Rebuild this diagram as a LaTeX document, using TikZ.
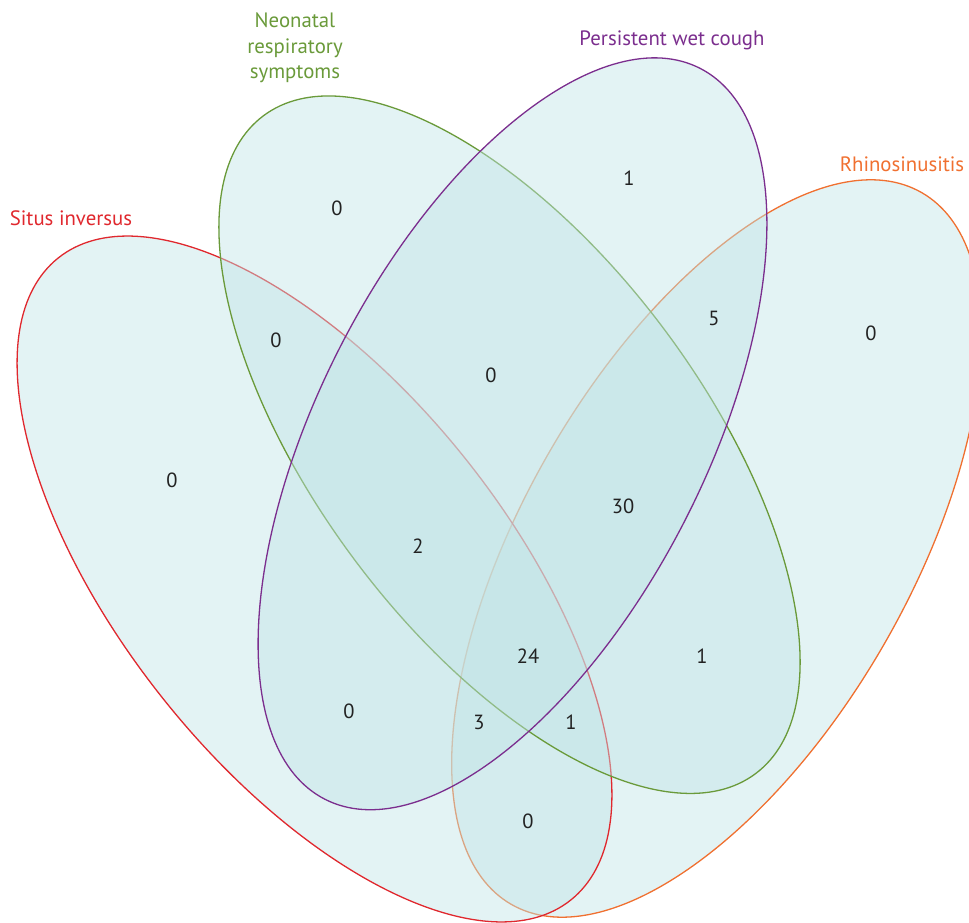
\documentclass[tikz,border=0pt]{standalone}
\usepackage{fontspec}
\setmainfont{PT Sans}
\definecolor{vfill}{RGB}{193,228,230}
\definecolor{cred}{RGB}{224,40,46}
\definecolor{cgreen}{RGB}{106,154,58}
\definecolor{cpurple}{RGB}{123,46,142}
\definecolor{corange}{RGB}{240,112,48}
\definecolor{numcol}{RGB}{34,34,34}
\tikzset{
  vset/.style={line width=1.3pt, fill=vfill, fill opacity=0.45},
  num/.style={text=numcol, font=\fontsize{20.5}{24}\selectfont, inner sep=0pt},
  setlabel/.style={font=\fontsize{20.8}{25.5}\selectfont, inner sep=0pt, align=center},
}
\begin{document}
\begin{tikzpicture}[x=1pt,y=1pt]
\useasboundingbox (0,0) rectangle (969,922);
\clip (0,0) rectangle (969,922);
% ellipses: orange, red, green, purple
\draw[vset, draw=corange, shift={(716.5,373.5)}, rotate=60] (0,0) ellipse [x radius=410.8, y radius=193];
\draw[vset, draw=cred, shift={(314.5,343)}, rotate=-51.4] (0,0) ellipse [x radius=410.8, y radius=193];
\draw[vset, draw=cgreen, shift={(509.5,477.3)}, rotate=-53.2] (0,0) ellipse [x radius=410.8, y radius=193];
\draw[vset, draw=cpurple, shift={(512.5,488.2)}, rotate=62.8] (0,0) ellipse [x radius=410.8, y radius=193];
% set labels
\node[setlabel, text=cred] (lred) at (71,704) {Situs inversus};
\node[setlabel, text=cgreen] (lgreen) at (295,874) {Neonatal\\respiratory\\symptoms};
\node[setlabel, text=cpurple] (lpurple) at (672,882) {Persistent wet cough};
\node[setlabel, text=corange] (lorange) at (902,758) {Rhinosinusitis};
% counts
\node[num] (r) at (172,442) {0};
\node[num] (g) at (337,714) {0};
\node[num] (p) at (629,744) {1};
\node[num] (o) at (871,589) {0};
\node[num] (rg) at (276,582) {0};
\node[num] (po) at (714,604) {5};
\node[num] (gp) at (491,547) {0};
\node[num] (rgp) at (418,376) {2};
\node[num] (gpo) at (623,416) {30};
\node[num] (rgpo) at (528,266) {24};
\node[num] (go) at (702,266) {1};
\node[num] (rp) at (349,211) {0};
\node[num] (rpo) at (479,200) {3};
\node[num] (rgo) at (571,200) {1};
\node[num] (ro) at (528,101) {0};
\end{tikzpicture}
\end{document}
